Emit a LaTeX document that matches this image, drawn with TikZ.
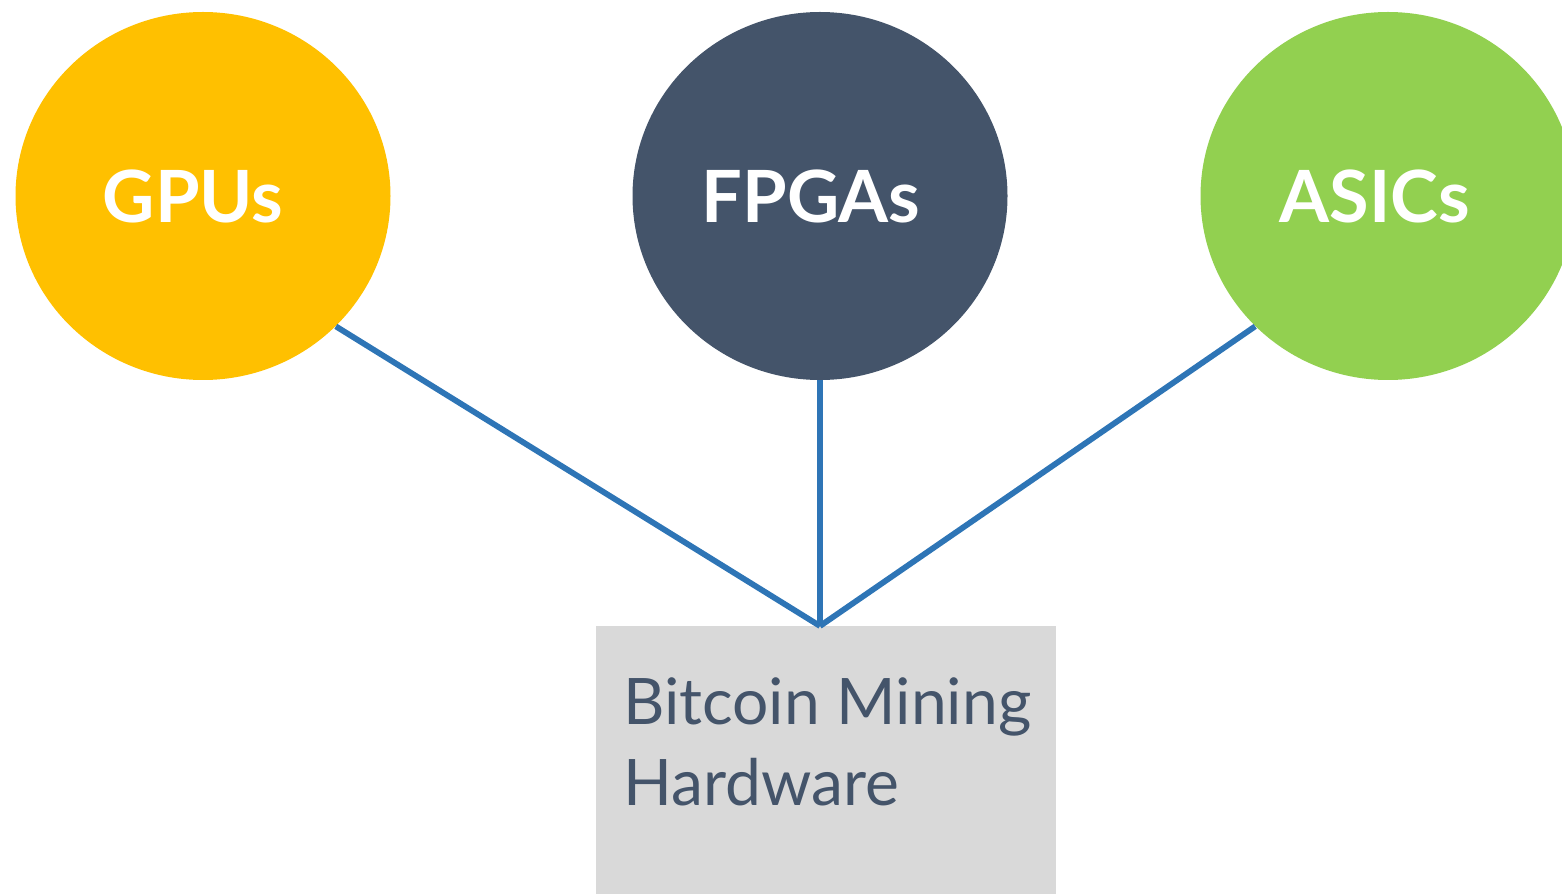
\documentclass[tikz,border=0pt]{standalone}
\usepackage{fontspec}
\setmainfont{Lato}
\usetikzlibrary{shapes.geometric}

\definecolor{gpuyellow}{HTML}{FFC000}
\definecolor{fpgaslate}{HTML}{44546A}
\definecolor{asicgreen}{HTML}{92D050}
\definecolor{linkblue}{HTML}{2E75B6}
\definecolor{boxgray}{HTML}{D9D9D9}

\begin{document}
\begin{tikzpicture}
  \tikzset{every node/.style={inner sep=0pt},
    chip/.style={ellipse,minimum width=7.5cm,minimum height=7.36cm},
    chiplabel/.style={text=white,font=\fontsize{41}{48}\selectfont\bfseries},
    link/.style={draw=linkblue,line width=3.3pt}}
  \useasboundingbox (0,0) rectangle (31.24,-17.88);

  % the three kinds of mining hardware
  \node[chip,fill=gpuyellow] (gpu) at (4.06,-3.92) {};
  \node[chip,fill=fpgaslate] (fpga) at (16.4,-3.92) {};
  \node[chip,fill=asicgreen] (asic) at (27.76,-3.92) {};
  \node[chiplabel] (gpulabel) at ([xshift=-0.2cm]gpu.center) {GPUs};
  \node[chiplabel] (fpgalabel) at ([xshift=-0.18cm]fpga.center) {FPGAs};
  \node[chiplabel] (asiclabel) at ([xshift=-0.26cm]asic.center) {ASICs};

  \node[fill=boxgray,anchor=north,minimum width=9.2cm,minimum height=5.36cm]
    (hw) at (16.52,-12.52) {};
  \node[anchor=north west,align=left,text=fpgaslate,
        font=\fontsize{36.5}{46}\selectfont] (hwtext) at (12.46,-13.55)
    {Bitcoin Mining\\Hardware};

  \draw[link] (gpu.south east) -- (hw.north -| fpga.south);
  \draw[link] (fpga.south) -- (hw.north -| fpga.south);
  \draw[link] (asic.south west) -- (hw.north -| fpga.south);
\end{tikzpicture}
\end{document}
